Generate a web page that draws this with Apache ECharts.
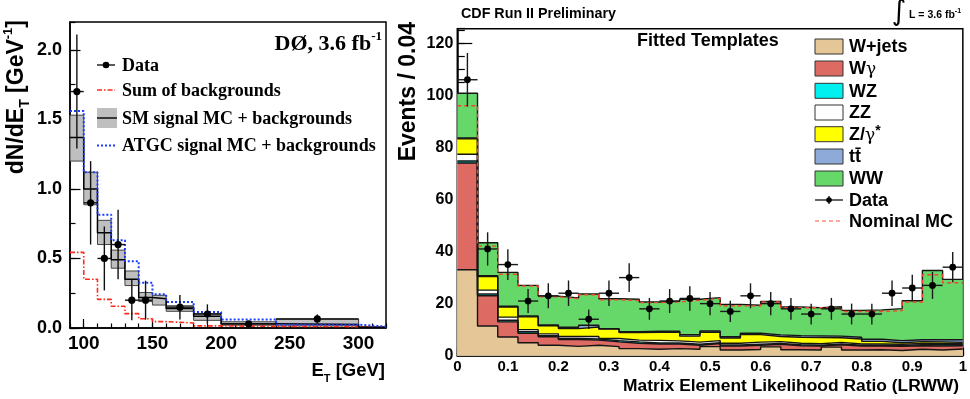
<!DOCTYPE html>
<html>
<head>
<meta charset="utf-8">
<script src="https://cdn.jsdelivr.net/npm/echarts@6/dist/echarts.min.js"></script>
<style>
  html, body { margin: 0; padding: 0; background: #fff; }
  #c { width: 970px; height: 399px; }
</style>
</head>
<body>
<div id="c"></div>
<script>
// ---------- Left panel: DØ photon E_T spectrum ----------
const etEdges      = [90, 100, 110, 120, 130, 140, 150, 160, 180, 200, 240, 300, 320];
const smCentral    = [1.37, 1.00, 0.685, 0.49, 0.35, 0.22, 0.21, 0.14, 0.084, 0.03, 0.025, 0.005];
const smBandLow    = [1.20, 0.886, 0.60, 0.43, 0.305, 0.19, 0.165, 0.12, 0.055, 0.02, 0.015, 0.002];
const smBandHigh   = [1.53, 1.12, 0.774, 0.56, 0.41, 0.255, 0.235, 0.16, 0.104, 0.045, 0.065, 0.008];
const atgcSignal   = [1.56, 1.12, 0.815, 0.63, 0.48, 0.325, 0.242, 0.187, 0.115, 0.062, 0.024, 0.01];
const bkgSum       = [0.544, 0.35, 0.206, 0.156, 0.103, 0.067, 0.046, 0.036, 0.015, 0.012, 0.01, 0.005];
const etDataX      = [95, 105, 115, 125, 135, 145, 170, 190, 220, 270];
const etDataXErr   = [5, 5, 5, 5, 5, 5, 10, 10, 20, 30];
const etDataY      = [1.70, 0.90, 0.50, 0.60, 0.20, 0.20, 0.15, 0.10, 0.03, 0.065];
const etDataYErr   = [0.41, 0.30, 0.23, 0.25, 0.145, 0.14, 0.088, 0.07, 0.02, 0.033];
const etXTicks     = [100, 150, 200, 250, 300];
const etYTicks     = [0, 0.5, 1.0, 1.5, 2.0];

// ---------- Right panel: CDF matrix-element likelihood ratio ----------
const lrEdges = [0, 0.04, 0.08, 0.12, 0.16, 0.2, 0.24, 0.28, 0.32, 0.36, 0.4, 0.44, 0.48,
                 0.52, 0.56, 0.6, 0.64, 0.68, 0.72, 0.76, 0.8, 0.84, 0.88, 0.92, 0.96, 1.0];
const wJets   = [33.0, 11.4, 7.2, 5.0, 4.0, 3.6, 4.0, 3.5, 2.7, 2.5, 2.7, 2.5, 3.5, 2.2, 2.4, 3.4, 2.3, 2.2, 3.3, 2.2, 2.3, 2.0, 2.5, 2.2, 2.6];
const wGamma  = [41.0, 11.6, 5.8, 3.6, 3.3, 2.6, 2.0, 1.8, 2.1, 2.0, 1.8, 1.5, 1.2, 1.5, 1.6, 1.0, 1.5, 1.5, 0.9, 1.5, 1.4, 1.6, 1.3, 1.5, 1.2];
const wz      = [0.8, 0.7, 0.6, 0.6, 0.4, 0.4, 0.4, 0.5, 0.5, 0.4, 0.4, 0.4, 0.3, 0.4, 0.4, 0.3, 0.4, 0.3, 0.3, 0.3, 0.3, 0.3, 0.4, 0.5, 0.4];
const zz      = [2.6, 1.5, 1.2, 0.8, 0.7, 0.8, 1.0, 0.8, 0.7, 1.0, 0.8, 0.8, 0.8, 0.7, 0.8, 0.7, 0.6, 0.6, 0.6, 0.5, 0.5, 0.5, 0.5, 0.5, 0.4];
const zGamma  = [5.9, 5.2, 3.9, 4.9, 3.1, 3.0, 3.6, 3.6, 2.9, 3.1, 3.4, 2.3, 3.2, 2.0, 2.9, 2.0, 2.3, 2.4, 1.8, 1.9, 1.0, 0.6, 0.7, 0.6, 0.5];
const ttbar   = [0.3, 0.3, 0.3, 0.35, 0.3, 0.5, 0.7, 0.2, 0.3, 0.4, 0.3, 0.6, 0.5, 0.5, 0.5, 0.6, 0.6, 0.6, 0.6, 0.7, 0.8, 0.8, 0.7, 0.8, 1.0];
const ww      = [17.2, 12.7, 13.0, 11.75, 11.1, 11.3, 12.0, 11.5, 12.5, 11.2, 11.5, 13.6, 12.8, 12.4, 10.8, 12.8, 11.0, 10.8, 11.3, 10.3, 11.3, 12.3, 15.0, 26.6, 23.2];
const nominalMC = [96.0, 42.1, 31.3, 26.8, 22.6, 21.9, 23.4, 21.5, 21.2, 20.4, 20.7, 21.3, 22.0, 19.2, 19.1, 20.6, 18.4, 18.4, 18.1, 17.0, 17.0, 17.3, 20.6, 31.1, 28.0];
const lrData    = [106, 41, 35, 21, 23, 24, 14, 24, 30, 18, 21, 22, 20, 17, 23, 20, 18, 16, 18, 16, 16, 24, 26, 27, 34];
const lrDataErr = [10.3, 6.4, 5.9, 4.6, 4.8, 4.9, 3.7, 4.9, 5.5, 4.2, 4.6, 4.7, 4.5, 4.1, 4.8, 4.5, 4.2, 4.0, 4.2, 4.0, 4.0, 4.9, 5.1, 5.2, 5.8];
const lrXTicks  = [0, 0.1, 0.2, 0.3, 0.4, 0.5, 0.6, 0.7, 0.8, 0.9, 1];
const lrYTicks  = [0, 20, 40, 60, 80, 100, 120];

const templateNames  = ['W+jets', 'Wγ', 'WZ', 'ZZ', 'Z/γ*', 'tt̄', 'WW'];
const templateValues = [wJets, wGamma, wz, zz, zGamma, ttbar, ww];
const templateColors = ['#e5c696', '#dd6b63', '#00f0f0', '#ffffff', '#ffff00', '#8eaad8', '#66d86a'];

const SANS = '"Liberation Sans", Arial, Helvetica, sans-serif';
const SERIF = '"Liberation Serif", "Times New Roman", serif';

// histogram helpers: one point per lower bin edge plus the closing edge
function stepPoints(edges, vals) {
  const pts = vals.map((v, i) => [edges[i], v]);
  pts.push([edges[edges.length - 1], vals[vals.length - 1]]);
  return pts;
}
function errorBars(dotR, color, width) {
  return function (params, api) {
    const x = api.value(0), y = api.value(1), xe = api.value(2), ye = api.value(3);
    const c = api.coord([x, y]);
    const l = api.coord([x - xe, y]), r = api.coord([x + xe, y]);
    const t = api.coord([x, y + ye]), b = api.coord([x, y - ye]);
    const st = { stroke: color, lineWidth: width };
    return { type: 'group', children: [
      { type: 'line', shape: { x1: l[0], y1: l[1], x2: r[0], y2: r[1] }, style: st },
      { type: 'line', shape: { x1: t[0], y1: t[1], x2: b[0], y2: b[1] }, style: st },
      { type: 'circle', shape: { cx: c[0], cy: c[1], r: dotR }, style: { fill: '#000' } }
    ]};
  };
}

// running totals of the template stack (bottom layer first)
const stackTops = [];
templateValues.forEach((vals, k) => {
  stackTops.push(vals.map((v, i) => (k ? stackTops[k - 1][i] : 0) + v));
});

const axisLineStyle = { color: '#000', width: 1.5 };
const tickStyle = { color: '#000', width: 1.2 };

function minorAxis(grid, min, max, interval, len, pos) {
  return { gridIndex: grid, type: 'value', min, max, interval, position: pos,
    axisLine: { show: true, onZero: false, lineStyle: axisLineStyle },
    axisTick: { show: true, inside: true, length: len, lineStyle: tickStyle },
    axisLabel: { show: false }, splitLine: { show: false } };
}
function majorAxis(grid, min, max, ticks, len, pos, label) {
  return { gridIndex: grid, type: 'value', min, max, position: pos,
    axisLine: { show: false, onZero: false },
    axisTick: { show: true, inside: true, length: len, customValues: ticks, lineStyle: tickStyle },
    axisLabel: Object.assign({ customValues: ticks, color: '#000', fontFamily: SANS, fontWeight: 'bold' }, label),
    splitLine: { show: false } };
}

const series = [];

// ----- left panel series -----
series.push({
  type: 'custom', xAxisIndex: 0, yAxisIndex: 0, z: 2, silent: true,
  data: smCentral.map((_, i) => [etEdges[i], etEdges[i + 1], smBandLow[i], smBandHigh[i]]),
  encode: { x: [0, 1], y: [2, 3] },
  renderItem: function (params, api) {
    const p0 = api.coord([api.value(0), api.value(3)]);
    const p1 = api.coord([api.value(1), api.value(2)]);
    return { type: 'rect', shape: { x: p0[0], y: p0[1], width: p1[0] - p0[0], height: p1[1] - p0[1] },
             style: { fill: '#bfbfbf', stroke: '#444', lineWidth: 1 } };
  }
});
series.push({ type: 'line', xAxisIndex: 0, yAxisIndex: 0, z: 3, step: 'end', symbol: 'none', silent: true,
  data: stepPoints(etEdges, bkgSum), lineStyle: { color: '#ff2a1a', width: 1.6, type: [5, 2, 1.5, 2] } });
series.push({ type: 'line', xAxisIndex: 0, yAxisIndex: 0, z: 4, step: 'end', symbol: 'none', silent: true,
  data: stepPoints(etEdges, smCentral), lineStyle: { color: '#000', width: 1.5 } });
series.push({ type: 'line', xAxisIndex: 0, yAxisIndex: 0, z: 5, step: 'end', symbol: 'none', silent: true,
  data: stepPoints(etEdges, atgcSignal), lineStyle: { color: '#1a3cff', width: 2, type: [2, 2] } });
series.push({ type: 'custom', xAxisIndex: 0, yAxisIndex: 0, z: 6, silent: true,
  data: etDataX.map((x, i) => [x, etDataY[i], etDataXErr[i], etDataYErr[i]]),
  encode: { x: 0, y: 1 }, renderItem: errorBars(3.6, '#111', 1.4) });

// ----- right panel series -----
// fills: each running total filled down to zero, painted from the top layer downwards
for (let k = templateValues.length - 1; k >= 0; k--) {
  series.push({ type: 'line', xAxisIndex: 2, yAxisIndex: 2, z: 2, step: 'end', symbol: 'none', silent: true,
    name: templateNames[k], data: stepPoints(lrEdges, stackTops[k]),
    lineStyle: { width: 0, opacity: 0 }, areaStyle: { color: templateColors[k], opacity: 1 } });
}
// outlines of every layer
stackTops.forEach((tops) => {
  series.push({ type: 'line', xAxisIndex: 2, yAxisIndex: 2, z: 3, step: 'end', symbol: 'none', silent: true,
    data: stepPoints(lrEdges, tops), lineStyle: { color: '#151515', width: 1.4 } });
});
series.push({ type: 'line', xAxisIndex: 2, yAxisIndex: 2, z: 4, step: 'end', symbol: 'none', silent: true,
  data: stepPoints(lrEdges, nominalMC), lineStyle: { color: '#f0452e', width: 1.4, type: [4, 3] } });
series.push({ type: 'custom', xAxisIndex: 2, yAxisIndex: 2, z: 6, silent: true,
  data: lrData.map((y, i) => [(lrEdges[i] + lrEdges[i + 1]) / 2, y, (lrEdges[i + 1] - lrEdges[i]) / 2, lrDataErr[i]]),
  encode: { x: 0, y: 1 }, renderItem: errorBars(3.4, '#1a1a1a', 1.4) });

// ----- annotations, legends and axis titles -----
function text(x, y, str, size, opts) {
  const o = opts || {};
  return { type: 'text', x, y, rotation: o.rotation || 0, z: 20, silent: true,
    style: { text: str, fontSize: size, fontFamily: o.family || SANS, fontWeight: o.weight || 'bold',
      fill: o.fill || '#000', textAlign: o.align || 'left', textVerticalAlign: o.valign || 'middle', rich: o.rich } };
}
const graphics = [];

// left legend
graphics.push({ type: 'line', shape: { x1: 97, y1: 65, x2: 115, y2: 65 }, style: { stroke: '#000', lineWidth: 1.3 }, z: 20 });
graphics.push({ type: 'circle', shape: { cx: 106, cy: 65, r: 3.3 }, style: { fill: '#000' }, z: 20 });
graphics.push(text(122, 66, 'Data', 18, { family: SERIF }));
graphics.push({ type: 'line', shape: { x1: 97, y1: 90, x2: 115, y2: 90 }, style: { stroke: '#ff2a1a', lineWidth: 1.6, lineDash: [5, 2, 1.5, 2] }, z: 20 });
graphics.push(text(122, 91, 'Sum of backgrounds', 18, { family: SERIF }));
graphics.push({ type: 'rect', shape: { x: 97, y: 108, width: 20, height: 20 }, style: { fill: '#bfbfbf' }, z: 20 });
graphics.push({ type: 'line', shape: { x1: 97, y1: 118, x2: 117, y2: 118 }, style: { stroke: '#000', lineWidth: 1.4 }, z: 21 });
graphics.push(text(122, 119, 'SM signal MC + backgrounds', 18, { family: SERIF }));
graphics.push({ type: 'line', shape: { x1: 97, y1: 145.5, x2: 115, y2: 145.5 }, style: { stroke: '#1a3cff', lineWidth: 2, lineDash: [2, 2] }, z: 20 });
graphics.push(text(122, 146, 'ATGC signal MC + backgrounds', 18, { family: SERIF }));
graphics.push(text(382, 44, '{m|DØ, 3.6 fb}{p|-1}', 22, { family: SERIF, align: 'right',
  rich: { m: { fontSize: 22, fontFamily: SERIF, fontWeight: 'bold', lineHeight: 28 },
          p: { fontSize: 13, fontFamily: SERIF, fontWeight: 'bold', lineHeight: 15, verticalAlign: 'top' } } }));

// left axis titles
graphics.push(text(17, 20, '{m|dN/dE}{s|T}{m| [GeV}{p|-1}{m|]}', 23, { align: 'right', rotation: Math.PI / 2,
  rich: { m: { fontSize: 23, fontFamily: SANS, fontWeight: 'bold', lineHeight: 30 },
          s: { fontSize: 14, fontFamily: SANS, fontWeight: 'bold', lineHeight: 16, verticalAlign: 'bottom' },
          p: { fontSize: 13, fontFamily: SANS, fontWeight: 'bold', lineHeight: 15, verticalAlign: 'top' } } }));
graphics.push(text(385, 371, '{m|E}{s|T}{m| [GeV]}', 18, { align: 'right',
  rich: { m: { fontSize: 18.5, fontFamily: SANS, fontWeight: 'bold', lineHeight: 26 },
          s: { fontSize: 11, fontFamily: SANS, fontWeight: 'bold', lineHeight: 14, verticalAlign: 'bottom' } } }));

// right panel header texts
graphics.push(text(461, 14, 'CDF Run II Preliminary', 14.3));
graphics.push(text(899, 13, '∫', 28, { family: '"DejaVu Sans", sans-serif', weight: 'normal', align: 'center' }));
graphics.push(text(909, 15, '{m|L = 3.6 fb}{p|-1}', 10.5, {
  rich: { m: { fontSize: 10.5, fontFamily: SANS, fontWeight: 'bold', lineHeight: 14 },
          p: { fontSize: 7, fontFamily: SANS, fontWeight: 'bold', lineHeight: 8, verticalAlign: 'top' } } }));
graphics.push(text(637, 41, 'Fitted Templates', 18));

// right legend
const legendRows = [46.5, 68.5, 90.8, 112.5, 134.2, 156.5, 178.5];
const richLegend = {
  b: { fontSize: 18, fontFamily: SANS, fontWeight: 'bold', lineHeight: 22 },
  g: { fontSize: 17, fontFamily: '"DejaVu Serif", serif', fontWeight: 'normal', lineHeight: 22 },
  st: { fontSize: 14, fontFamily: SANS, fontWeight: 'bold', lineHeight: 14, verticalAlign: 'top' }
};
const legendLabels = ['{b|W+jets}', '{b|W}{g|γ}', '{b|WZ}', '{b|ZZ}', '{b|Z/}{g|γ}{st|*}', '{b|tt̄}', '{b|WW}'];
legendRows.forEach((y, k) => {
  graphics.push({ type: 'rect', shape: { x: 815, y: y - 7.5, width: 28, height: 15 },
    style: { fill: templateColors[k], stroke: '#333', lineWidth: 1 }, z: 20 });
  graphics.push(text(849, y + 1, legendLabels[k], 18, { rich: richLegend }));
});
graphics.push({ type: 'line', shape: { x1: 815, y1: 200, x2: 843, y2: 200 }, style: { stroke: '#111', lineWidth: 1.3 }, z: 20 });
graphics.push({ type: 'line', shape: { x1: 829, y1: 196, x2: 829, y2: 204 }, style: { stroke: '#111', lineWidth: 1.3 }, z: 20 });
graphics.push({ type: 'circle', shape: { cx: 829, cy: 200, r: 2.8 }, style: { fill: '#000' }, z: 20 });
graphics.push(text(849, 201, 'Data', 18));
graphics.push({ type: 'line', shape: { x1: 815, y1: 221, x2: 843, y2: 221 }, style: { stroke: '#ff8a78', lineWidth: 1.5, lineDash: [4, 3] }, z: 20 });
graphics.push(text(849, 222, 'Nominal MC', 18));

// right axis titles
graphics.push(text(409, 22, 'Events / 0.04', 23, { align: 'right', rotation: Math.PI / 2 }));
graphics.push(text(959, 386, 'Matrix Element Likelihood Ratio (LRWW)', 17.4, { align: 'right' }));

const option = {
  animation: false,
  textStyle: { fontFamily: SANS },
  grid: [
    { left: 70, top: 22, width: 316, height: 306, show: true, borderColor: '#000', borderWidth: 1.5, backgroundColor: 'transparent' },
    { left: 457.3, top: 28.7, width: 510, height: 327, show: true, borderColor: '#000', borderWidth: 1.5, backgroundColor: 'transparent' }
  ],
  xAxis: [
    minorAxis(0, 90, 320, 10, 4.5, 'bottom'),
    majorAxis(0, 90, 320, etXTicks, 9, 'bottom', { fontSize: 19, margin: 6 }),
    minorAxis(1, 0, 1, 0.02, 5, 'bottom'),
    majorAxis(1, 0, 1, lrXTicks, 8, 'bottom', { fontSize: 15, margin: 4 })
  ],
  yAxis: [
    minorAxis(0, 0, 2.2, 0.25, 5.5, 'left'),
    majorAxis(0, 0, 2.2, etYTicks, 10.5, 'left', { fontSize: 18, margin: 8, formatter: v => Number(v).toFixed(1) }),
    minorAxis(1, 0, 125.6, 5, 7.5, 'left'),
    majorAxis(1, 0, 125.6, lrYTicks, 15, 'left', { fontSize: 16, margin: 4 })
  ],
  series: series,
  graphic: { elements: graphics }
};

const chart = echarts.init(document.getElementById('c'));
chart.setOption(option);
</script>
</body>
</html>
